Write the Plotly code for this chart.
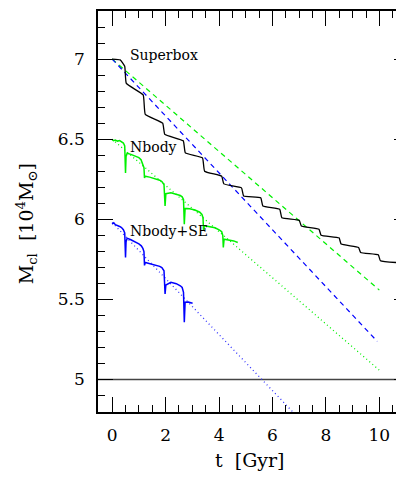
import plotly.graph_objects as go

# ---- data ----
# Superbox (black): smooth step-like mass loss
sb_t = [0.00, 0.30, 0.47, 0.53, 1.16, 1.24, 1.89, 1.97, 2.66, 2.74, 3.38, 3.46,
        4.10, 4.18, 4.84, 4.92, 5.56, 5.64, 6.27, 6.35, 7.00, 7.08, 7.74, 7.82,
        8.49, 8.57, 9.22, 9.30, 9.96, 10.04, 10.63]
sb_m = [7.000, 6.995, 6.955, 6.848, 6.776, 6.655, 6.600, 6.530, 6.490, 6.414, 6.383, 6.300,
        6.268, 6.221, 6.196, 6.145, 6.134, 6.083, 6.062, 6.010, 5.994, 5.958, 5.938, 5.900,
        5.884, 5.845, 5.824, 5.793, 5.778, 5.741, 5.730]

# Nbody (green)
nb_t = [0.00, 0.05, 0.12, 0.20, 0.28, 0.35, 0.42, 0.47, 0.50, 0.52, 0.56, 0.70, 0.85, 1.00,
        1.08, 1.14, 1.19, 1.21, 1.23, 1.40, 1.60, 1.78, 1.86, 1.94, 1.98, 2.01, 2.20, 2.40,
        2.55, 2.62, 2.67, 2.70, 2.73, 2.90, 3.10, 3.28, 3.36, 3.40, 3.42, 3.45, 3.65, 3.85,
        4.02, 4.10, 4.14, 4.16, 4.19, 4.35, 4.55, 4.70]
nb_m = [6.497, 6.490, 6.494, 6.488, 6.491, 6.484, 6.476, 6.458, 6.289, 6.392, 6.412, 6.405, 6.396, 6.385,
        6.372, 6.350, 6.322, 6.258, 6.269, 6.263, 6.254, 6.244, 6.236, 6.217, 6.083, 6.160, 6.165, 6.158,
        6.148, 6.140, 6.124, 5.969, 6.068, 6.066, 6.058, 6.044, 6.030, 6.010, 5.927, 5.960, 5.955, 5.947,
        5.932, 5.922, 5.900, 5.824, 5.876, 5.873, 5.865, 5.855]

# Nbody+SE (blue)
se_t = [0.00, 0.06, 0.12, 0.20, 0.28, 0.35, 0.42, 0.47, 0.50, 0.52, 0.56, 0.70, 0.85, 1.00,
        1.09, 1.15, 1.19, 1.21, 1.24, 1.40, 1.60, 1.78, 1.86, 1.94, 1.98, 2.01, 2.20, 2.40,
        2.55, 2.62, 2.67, 2.70, 2.73, 2.85, 3.01]
se_m = [5.970, 5.978, 5.966, 5.962, 5.955, 5.948, 5.935, 5.915, 5.761, 5.860, 5.882, 5.872, 5.860, 5.846,
        5.834, 5.818, 5.798, 5.712, 5.730, 5.724, 5.716, 5.706, 5.698, 5.679, 5.534, 5.590, 5.606, 5.598,
        5.585, 5.574, 5.544, 5.358, 5.482, 5.484, 5.476]

# linear fits
green_dash_t = [0.0, 10.0]
green_dash_m = [7.0, 5.558]
blue_dash_t = [0.0, 9.92]
blue_dash_m = [7.0, 5.238]
green_dot_t = [0.0, 10.0]
green_dot_m = [6.50, 5.058]
blue_dot_t = [0.0, 6.86]
blue_dot_m = [5.98, 4.78]

ref_t = [-1.0, 12.0]
ref_m = [5.0, 5.0]

labels = ["Superbox", "Nbody", "Nbody+SE"]
label_t = [0.58, 0.60, 0.60]
label_m = [7.027, 6.449, 5.927]

x_tick_vals = [0, 2, 4, 6, 8, 10]
y_tick_vals = [5, 5.5, 6, 6.5, 7]

X_RANGE = [-0.53, 10.81]
Y_RANGE = [4.797, 7.30]

GREEN = "#00f000"
BLUE = "#0000ff"
FONT = "DejaVu Serif"

fig = go.Figure()

fig.add_trace(go.Scatter(x=ref_t, y=ref_m, mode="lines",
                         line=dict(color="#444444", width=1.3), hoverinfo="skip"))
fig.add_trace(go.Scatter(x=green_dash_t, y=green_dash_m, mode="lines",
                         line=dict(color=GREEN, width=1.2, dash="5px,4px")))
fig.add_trace(go.Scatter(x=blue_dash_t, y=blue_dash_m, mode="lines",
                         line=dict(color=BLUE, width=1.2, dash="5px,4px")))
fig.add_trace(go.Scatter(x=green_dot_t, y=green_dot_m, mode="lines",
                         line=dict(color=GREEN, width=1.3, dash="1px,3px")))
fig.add_trace(go.Scatter(x=blue_dot_t, y=blue_dot_m, mode="lines",
                         line=dict(color="#3333ff", width=1.3, dash="1px,3px")))
fig.add_trace(go.Scatter(x=sb_t, y=sb_m, mode="lines",
                         line=dict(color="black", width=1.3, shape="spline", smoothing=0.35)))
fig.add_trace(go.Scatter(x=nb_t, y=nb_m, mode="lines",
                         line=dict(color=GREEN, width=1.5)))
fig.add_trace(go.Scatter(x=se_t, y=se_m, mode="lines",
                         line=dict(color=BLUE, width=1.5)))
# invisible trace to anchor secondary (top/right) axes
fig.add_trace(go.Scatter(x=X_RANGE, y=Y_RANGE, mode="markers", xaxis="x2", yaxis="y2",
                         marker=dict(opacity=0), hoverinfo="skip"))

for txt, t, m in zip(labels, label_t, label_m):
    fig.add_annotation(x=t, y=m, text=txt, showarrow=False, xanchor="left", yanchor="middle",
                       font=dict(family=FONT, size=14, color="black"))

fig.add_annotation(xref="paper", yref="paper", x=0.5, y=-0.12, text="t  [Gyr]",
                   showarrow=False, xanchor="center", yanchor="middle",
                   font=dict(family=FONT, size=19, color="black"))
fig.add_annotation(xref="paper", yref="paper", x=-0.235, y=0.47,
                   text="M<sub>cl</sub>  [10<sup>4</sup>M<sub>⊙</sub>]", textangle=-90,
                   showarrow=False, xanchor="center", yanchor="middle",
                   font=dict(family=FONT, size=19, color="black"))

axis_common = dict(showgrid=False, zeroline=False, ticks="inside", tickcolor="black")

# page body has an 8px margin, so the figure is 8px smaller and margins shifted
fig.update_layout(
    width=396, height=469,
    margin=dict(l=90, r=1, t=1, b=65),
    paper_bgcolor="white", plot_bgcolor="white",
    showlegend=False,
    font=dict(family=FONT, size=17, color="black"),
    xaxis=dict(range=X_RANGE, tickvals=x_tick_vals, ticklen=15, tickwidth=1.3,
               showline=True, linecolor="black", linewidth=1.5, mirror=True,
               tickfont=dict(family=FONT, size=17), ticklabelstandoff=7,
               minor=dict(dtick=0.5, tick0=0, ticks="inside", ticklen=7, tickwidth=1, tickcolor="black"),
               **axis_common),
    yaxis=dict(range=Y_RANGE, tickvals=y_tick_vals, ticklen=15, tickwidth=1.3,
               showline=True, linecolor="black", linewidth=1.5, mirror=True,
               tickfont=dict(family=FONT, size=17), ticklabelstandoff=8,
               minor=dict(dtick=0.1, tick0=0, ticks="inside", ticklen=7, tickwidth=1, tickcolor="black"),
               **axis_common),
    xaxis2=dict(range=X_RANGE, overlaying="x", side="top", anchor="y", tickvals=x_tick_vals,
                ticklen=15, tickwidth=1.3, showticklabels=False, showline=False,
                minor=dict(dtick=0.5, tick0=0, ticks="inside", ticklen=7, tickwidth=1, tickcolor="black"),
                **axis_common),
    yaxis2=dict(range=Y_RANGE, overlaying="y", side="right", anchor="x", tickvals=y_tick_vals,
                ticklen=7, tickwidth=1.3, showticklabels=False, showline=False,
                **axis_common),
)

fig.write_html("out.html")
